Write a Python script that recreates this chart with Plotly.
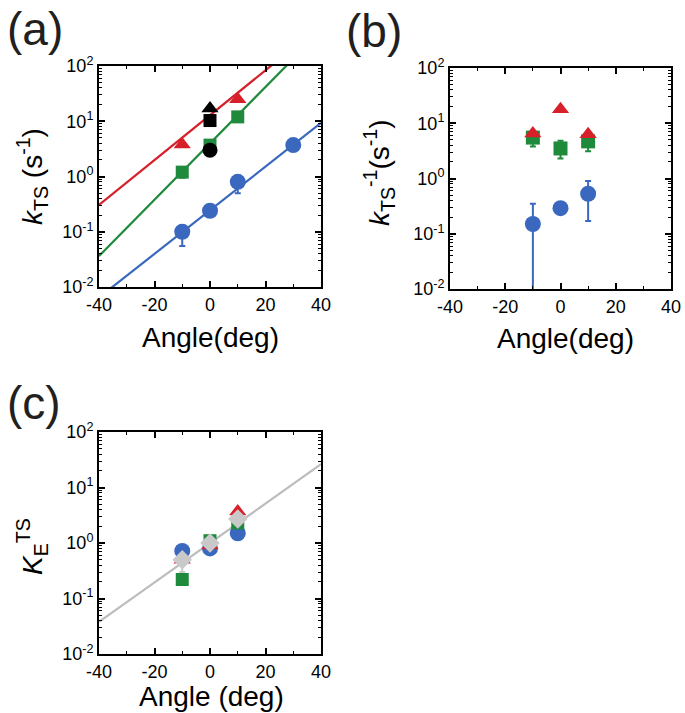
import numpy as np
import plotly.graph_objects as go

# ---------- data ----------
angles = [-10, 0, 10]
angles_blue_a = [-10, 0, 10, 30]

# panel (a): k_TS
a_blue = [0.10, 0.24, 0.80, 3.7]
a_blue_err_minus = [0.045, 0.0, 0.30, 0.0]
a_blue_err_plus = [0.03, 0.0, 0.0, 0.0]
a_green = [1.2, 3.7, 12.0]
a_green_err_minus = [0.25, 0.0, 1.5]
a_red_x = [-10, 10]
a_red = [3.8, 25.0]
a_black_x = [0, 0, 0]
a_black_sym = ["triangle-up", "square", "circle"]
a_black = [17.0, 10.3, 3.0]

# fitted lines (log10 k = intercept + slope * angle)
fit_blue = (-0.61, 0.0395)
fit_green = (0.60, 0.051)
fit_red = (1.11, 0.0406)

# panel (b): k_TS^-1
b_red = [6.5, 18.0, 6.3]
b_green = [5.5, 3.5, 4.7]
b_green_err_plus = [0.6, 1.3, 0.6]
b_green_err_minus = [1.7, 1.2, 1.6]
b_blue = [0.15, 0.29, 0.53]
b_blue_err_plus = [0.20, 0.0, 0.37]
b_blue_err_minus = [0.145, 0.0, 0.36]

# panel (c): K_E^TS
c_blue = [0.72, 0.80, 1.5]
c_red = [0.50, 0.90, 3.7]
c_green = [0.22, 1.1, 2.3]
c_gray = [0.50, 1.0, 2.7]
c_gray_err_minus = [0.2, 0.0, 0.0]
fit_gray = (-0.0, 0.0355)

BLUE = "#3A68BE"
RED = "#D6202A"
GREEN = "#1F8A3B"
BLACK = "#000000"
GRAY_M = "#C9C9C9"
GRAY_L = "#BDBDBD"

FONT = "Liberation Sans, Arial, sans-serif"

fig = go.Figure()

xline = np.linspace(-40, 40, 161)


def fitline(p):
    return 10 ** (p[0] + p[1] * xline)


def err(minus, plus, color):
    d = dict(type="data", array=plus, arrayminus=minus, color=color,
             thickness=2, width=3, visible=True)
    return d


def mk(symbol, size, color):
    return dict(symbol=symbol, size=size, color=color, opacity=1,
                line=dict(width=0))


# ---- panel (a) ----
for p, col in [(fit_red, RED), (fit_green, GREEN), (fit_blue, BLUE)]:
    fig.add_trace(go.Scatter(x=xline, y=fitline(p), mode="lines",
                             line=dict(color=col, width=2.2),
                             xaxis="x", yaxis="y", showlegend=False))

fig.add_trace(go.Scatter(x=angles_blue_a, y=a_blue, mode="markers",
                         marker=mk("circle", 16, BLUE),
                         error_y=err(a_blue_err_minus, a_blue_err_plus, BLUE),
                         xaxis="x", yaxis="y", showlegend=False))
fig.add_trace(go.Scatter(x=angles, y=a_green, mode="markers",
                         marker=mk("square", 13, GREEN),
                         error_y=err(a_green_err_minus, [0, 0, 0], GREEN),
                         xaxis="x", yaxis="y", showlegend=False))
fig.add_trace(go.Scatter(x=a_red_x, y=a_red, mode="markers",
                         marker=mk("triangle-up", 15, RED),
                         xaxis="x", yaxis="y", showlegend=False))
fig.add_trace(go.Scatter(x=a_black_x, y=a_black, mode="markers",
                         marker=mk(a_black_sym, [15, 13, 15], BLACK),
                         xaxis="x", yaxis="y", showlegend=False))

# ---- panel (b) ----
fig.add_trace(go.Scatter(x=angles, y=b_blue, mode="markers",
                         marker=mk("circle", 16, BLUE),
                         error_y=err(b_blue_err_minus, b_blue_err_plus, BLUE),
                         xaxis="x2", yaxis="y2", showlegend=False))
fig.add_trace(go.Scatter(x=angles, y=b_green, mode="markers",
                         marker=mk("square", 14, GREEN),
                         error_y=err(b_green_err_minus, b_green_err_plus, GREEN),
                         xaxis="x2", yaxis="y2", showlegend=False))
fig.add_trace(go.Scatter(x=angles, y=b_red, mode="markers",
                         marker=mk("triangle-up", 15, RED),
                         xaxis="x2", yaxis="y2", showlegend=False))

# ---- panel (c) ----
fig.add_trace(go.Scatter(x=xline, y=fitline(fit_gray), mode="lines",
                         line=dict(color=GRAY_L, width=2.2),
                         xaxis="x3", yaxis="y3", showlegend=False))
fig.add_trace(go.Scatter(x=angles, y=c_blue, mode="markers",
                         marker=mk("circle", 16, BLUE),
                         xaxis="x3", yaxis="y3", showlegend=False))
fig.add_trace(go.Scatter(x=angles, y=c_green, mode="markers",
                         marker=mk("square", 13, GREEN),
                         xaxis="x3", yaxis="y3", showlegend=False))
fig.add_trace(go.Scatter(x=angles, y=c_red, mode="markers",
                         marker=mk("triangle-up", 15, RED),
                         xaxis="x3", yaxis="y3", showlegend=False))
fig.add_trace(go.Scatter(x=angles, y=c_gray, mode="markers",
                         marker=mk("diamond", 15, GRAY_M),
                         error_y=err(c_gray_err_minus, [0, 0, 0], GRAY_M),
                         xaxis="x3", yaxis="y3", showlegend=False))

W, H = 685, 713


def dx(a, b):
    return [a / W, b / W]


def dy(top, bottom):
    return [1 - bottom / H, 1 - top / H]


ytickvals = [0.01, 0.1, 1, 10, 100]
yticktext = ["10<sup>-2</sup>", "10<sup>-1</sup>", "10<sup>0</sup>",
             "10<sup>1</sup>", "10<sup>2</sup>"]
xtickvals = [-40, -20, 0, 20, 40]


def xaxis(domain, anchor):
    return dict(domain=domain, anchor=anchor, range=[-40, 40], automargin=False,
                tickvals=xtickvals, ticktext=[str(v) for v in xtickvals],
                ticks="inside", ticklen=6, tickwidth=1.5, tickcolor="black",
                minor=dict(tickvals=[-30, -10, 10, 30], ticks="inside",
                           ticklen=3, tickwidth=1, tickcolor="black"),
                showline=True, linewidth=2, linecolor="black", mirror="ticks",
                showgrid=False, zeroline=False,
                tickfont=dict(size=18, family=FONT, color="black"))


def yaxis(domain, anchor):
    minor_vals = []
    for dec in [0.01, 0.1, 1, 10]:
        for m in range(2, 10):
            minor_vals.append(dec * m)
    return dict(domain=domain, anchor=anchor, type="log", range=[-2, 2],
                automargin=False,
                tickvals=ytickvals, ticktext=yticktext,
                ticks="inside", ticklen=6, tickwidth=1.5, tickcolor="black",
                minor=dict(tickvals=minor_vals, ticks="inside",
                           ticklen=3, tickwidth=1, tickcolor="black"),
                showline=True, linewidth=2, linecolor="black", mirror="ticks",
                showgrid=False, zeroline=False,
                tickfont=dict(size=18, family=FONT, color="black"))


fig.update_layout(
    width=W, height=H,
    margin=dict(l=0, r=0, t=0, b=0, autoexpand=False),
    paper_bgcolor="white", plot_bgcolor="white",
    showlegend=False,
    xaxis=xaxis(dx(99, 321), "y"),
    yaxis=yaxis(dy(66, 287), "x"),
    xaxis2=xaxis(dx(450, 671), "y2"),
    yaxis2=yaxis(dy(68, 289), "x2"),
    xaxis3=xaxis(dx(99, 321), "y3"),
    yaxis3=yaxis(dy(432, 654), "x3"),
)

# axis titles (text, x center px, y center px, angle)
axis_titles = [
    ("Angle(deg)", 210, 337, 0),
    ("<i>k</i><sub>TS</sub> (s<sup>-1</sup>)", 32, 176, -90),
    ("Angle(deg)", 565, 338, 0),
    ("<i>k</i><sub>TS</sub><sup>-1</sup>(s<sup>-1</sup>)", 379, 172, -90),
    ("Angle (deg)", 211, 696, 0),
    ("<i>K</i><sub>E</sub><sup>TS</sup>", 32, 546, -90),
]
for txt, x, y, ang in axis_titles:
    fig.add_annotation(text=txt, x=x / W, y=1 - y / H, xref="paper", yref="paper",
                       xanchor="center", yanchor="middle", showarrow=False,
                       textangle=ang,
                       font=dict(size=28, family=FONT, color="black"))

for txt, x, y in [("(a)", 5, 29), ("(b)", 344, 31), ("(c)", 5, 403)]:
    fig.add_annotation(text=txt, x=x / W, y=1 - y / H, xref="paper", yref="paper",
                       xanchor="left", yanchor="middle", showarrow=False,
                       font=dict(size=46, family=FONT, color="#231F20"))

fig.write_html("out.html", config={"displayModeBar": False},
               post_script="document.body.style.margin='0px';")
